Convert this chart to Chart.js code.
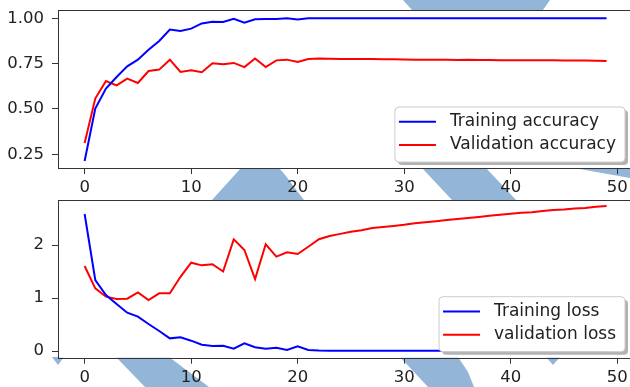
<!DOCTYPE html>
<html>
<head>
<meta charset="utf-8">
<script src="https://cdn.jsdelivr.net/npm/chart.js@4.4.0/dist/chart.umd.min.js"></script>
<style>
  html, body { margin: 0; padding: 0; background: #fff; }
  #wrap { position: relative; width: 630px; height: 387px; overflow: hidden; }
  #wrap svg, #wrap canvas { position: absolute; left: 0; }
  #bg { top: 0; }
  #accChart { top: 0; }
  #lossChart { top: 190px; }
</style>
</head>
<body>
<div id="wrap">
  <!-- pale stripes behind the figure -->
  <svg id="bg" width="630" height="387">
    <g fill="#92b5d8">
      <polygon points="403,0 550,0 543,10 412,10"/>
      <polygon points="241,168 279,168 286,176 294,187 304,200 212,200"/>
      <polygon points="422,168 486,168 516,200 452,200"/>
      <polygon points="574,168 630,168 630,178"/>
      <polygon points="52,357 64,357 58,365"/>
      <polygon points="116,357 169,357 209,387 145,387"/>
      <polygon points="400,357 458,357 468,372 474,387 428,387"/>
      <polygon points="546,357 560,357 553,365"/>
    </g>
  </svg>
  <canvas id="accChart" width="630" height="200"></canvas>
  <canvas id="lossChart" width="630" height="197"></canvas>
</div>
<script>
const epochs = [0, 1, 2, 3, 4, 5, 6, 7, 8, 9, 10, 11, 12, 13, 14, 15, 16, 17, 18, 19,
  20, 21, 22, 23, 24, 25, 26, 27, 28, 29, 30, 31, 32, 33, 34, 35, 36, 37, 38, 39,
  40, 41, 42, 43, 44, 45, 46, 47, 48, 49];

const trainAcc = [0.213, 0.502, 0.612, 0.676, 0.735, 0.772, 0.827, 0.875, 0.938, 0.930,
  0.943, 0.972, 0.981, 0.980, 0.998, 0.976, 0.995, 0.997, 0.997, 1.0,
  0.993, 1.0, 1.0, 1.0, 1.0, 1.0, 1.0, 1.0, 1.0, 1.0,
  1.0, 1.0, 1.0, 1.0, 1.0, 1.0, 1.0, 1.0, 1.0, 1.0,
  1.0, 1.0, 1.0, 1.0, 1.0, 1.0, 1.0, 1.0, 1.0, 1.0];
const valAcc = [0.312, 0.557, 0.654, 0.630, 0.667, 0.643, 0.709, 0.717, 0.772, 0.704,
  0.713, 0.703, 0.752, 0.746, 0.754, 0.731, 0.778, 0.731, 0.768, 0.772,
  0.759, 0.776, 0.778, 0.777, 0.776, 0.776, 0.775, 0.775, 0.774, 0.774,
  0.773, 0.772, 0.772, 0.771, 0.771, 0.770, 0.771, 0.770, 0.770, 0.769,
  0.769, 0.769, 0.768, 0.768, 0.768, 0.767, 0.767, 0.767, 0.766, 0.765];

const trainLoss = [2.585, 1.34, 1.057, 0.887, 0.723, 0.648, 0.509, 0.377, 0.239, 0.258,
  0.195, 0.12, 0.095, 0.10, 0.044, 0.145, 0.07, 0.044, 0.06, 0.02,
  0.09, 0.02, 0.01, 0.005, 0.005, 0.005, 0.004, 0.004, 0.004, 0.004,
  0.004, 0.004, 0.004, 0.003, 0.003, 0.003, 0.003, 0.003, 0.003, 0.003,
  0.003, 0.003, 0.003, 0.003, 0.003, 0.003, 0.003, 0.003, 0.003, 0.003];
const valLoss = [1.604, 1.182, 1.025, 0.981, 0.987, 1.107, 0.962, 1.088, 1.088, 1.40,
  1.667, 1.616, 1.638, 1.50, 2.107, 1.906, 1.358, 2.013, 1.78, 1.862,
  1.83, 1.968, 2.11, 2.17, 2.21, 2.25, 2.28, 2.32, 2.34, 2.36,
  2.38, 2.41, 2.43, 2.45, 2.47, 2.49, 2.51, 2.53, 2.55, 2.57,
  2.59, 2.61, 2.62, 2.64, 2.66, 2.67, 2.69, 2.70, 2.72, 2.735];

const accTicks = [0.25, 0.5, 0.75, 1.0];
const lossTicks = [0, 1, 2];
const epochTicks = [0, 10, 20, 30, 40, 50];

Chart.defaults.font.family = '"DejaVu Sans", sans-serif';
Chart.defaults.font.size = 16.5;
Chart.defaults.color = '#222';

const LEGEND_FONT = '17px "DejaVu Sans", sans-serif';

// white axes background + frame like matplotlib
const framePlugin = {
  id: 'frame',
  beforeDraw(chart) {
    const a = chart.chartArea, ctx = chart.ctx;
    ctx.save();
    ctx.fillStyle = '#fff';
    ctx.fillRect(a.left, a.top, a.right - a.left + 5, a.bottom - a.top);
    ctx.restore();
  },
  afterDatasetsDraw(chart) {
    const a = chart.chartArea, ctx = chart.ctx;
    ctx.save();
    ctx.strokeStyle = '#333';
    ctx.lineWidth = 1;
    ctx.strokeRect(Math.round(a.left) + 0.5, Math.round(a.top) + 0.5, a.right - a.left + 10, Math.round(a.bottom - a.top));
    ctx.restore();
  }
};

// legend box in lower right with shadow
const legendPlugin = {
  id: 'boxLegend',
  afterDraw(chart) {
    const a = chart.chartArea, ctx = chart.ctx;
    const sets = chart.data.datasets;
    ctx.save();
    ctx.font = LEGEND_FONT;
    const textW = Math.max(...sets.map(d => ctx.measureText(d.label).width));
    const w = 55 + textW + 9, h = 55;
    const x = a.right - 5 - w, y = a.bottom - 6 - h;
    ctx.fillStyle = 'rgba(0,0,0,0.3)';
    ctx.beginPath(); ctx.roundRect(x + 3, y + 3, w, h, 4); ctx.fill();
    ctx.fillStyle = '#fff';
    ctx.strokeStyle = '#cccccc';
    ctx.beginPath(); ctx.roundRect(x, y, w, h, 4); ctx.fill(); ctx.stroke();
    sets.forEach((d, i) => {
      const cy = y + 14.7 + i * 23.3;
      ctx.strokeStyle = d.borderColor;
      ctx.lineWidth = 2;
      ctx.beginPath(); ctx.moveTo(x + 4, cy); ctx.lineTo(x + 41, cy); ctx.stroke();
      ctx.fillStyle = '#222';
      ctx.textBaseline = 'middle';
      ctx.fillText(d.label, x + 55, cy);
    });
    ctx.restore();
  }
};

function makeConfig(series, yMin, yMax, yStep, yFmt, xHeight) {
  return {
    type: 'line',
    data: {
      datasets: series.map(s => ({
        label: s.label,
        data: epochs.map((e, i) => ({ x: e, y: s.values[i] })),
        borderColor: s.color,
        borderWidth: 2,
        pointRadius: 0,
        tension: 0,
        fill: false
      }))
    },
    options: {
      responsive: false,
      animation: false,
      layout: { padding: { top: 10, left: 0, right: 0, bottom: 0 } },
      plugins: { legend: { display: false }, tooltip: { enabled: false } },
      scales: {
        x: {
          type: 'linear',
          min: -2.5,
          max: 51.2,
          afterFit: (s) => { s.height = xHeight; s.paddingLeft = 0; s.paddingRight = 0; },
          afterBuildTicks: (s) => { s.ticks = epochTicks.map(v => ({ value: v })); },
          ticks: { padding: 4, includeBounds: false, maxRotation: 0, callback: v => String(v) },
          grid: { display: true, drawOnChartArea: false, tickLength: 6, color: '#333' },
          border: { display: false }
        },
        y: {
          min: yMin,
          max: yMax,
          afterFit: (s) => { s.width = 58; s.paddingTop = 0; s.paddingBottom = 0; },
          afterBuildTicks: (s) => { s.ticks = yStep.map(v => ({ value: v })); },
          ticks: { padding: 8, includeBounds: false, callback: yFmt },
          grid: { display: true, drawOnChartArea: false, tickLength: 6, color: '#333' },
          border: { display: false }
        }
      }
    },
    plugins: [framePlugin, legendPlugin]
  };
}

const accChart = new Chart(document.getElementById('accChart').getContext('2d'), makeConfig(
  [
    { label: 'Training accuracy', values: trainAcc, color: 'rgb(0,0,255)' },
    { label: 'Validation accuracy', values: valAcc, color: 'rgb(255,0,0)' }
  ],
  0.174, 1.046, accTicks, v => v.toFixed(2), 32
));

const lossChart = new Chart(document.getElementById('lossChart').getContext('2d'), makeConfig(
  [
    { label: 'Training loss', values: trainLoss, color: 'rgb(0,0,255)' },
    { label: 'validation loss', values: valLoss, color: 'rgb(255,0,0)' }
  ],
  -0.126, 2.849, lossTicks, v => String(v), 29.3
));
</script>
</body>
</html>
